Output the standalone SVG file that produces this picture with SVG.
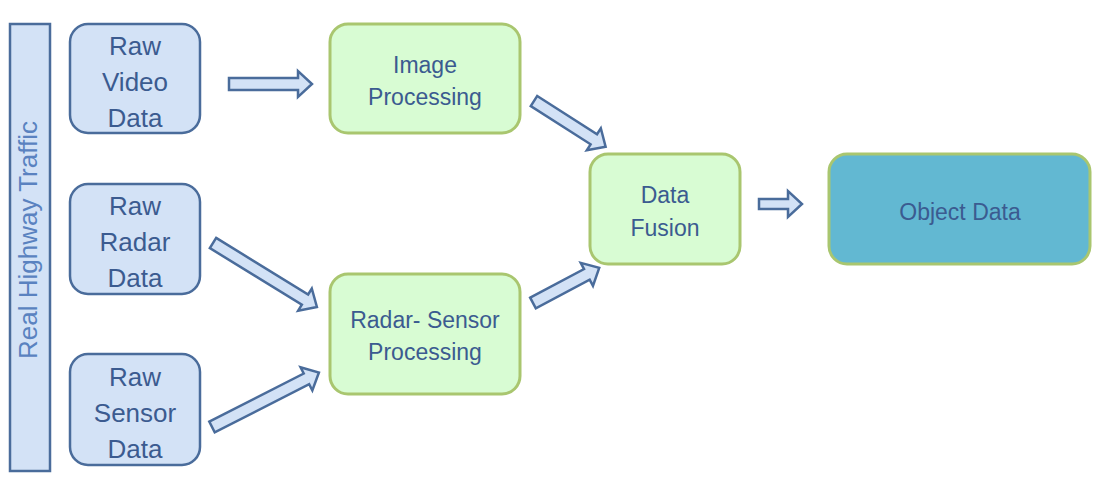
<svg xmlns="http://www.w3.org/2000/svg" width="1119" height="502" viewBox="0 0 1119 502">
<style>
.blue{fill:#d3e2f6;stroke:#4a6c9b;stroke-width:2.5}
.green{fill:#d8fcd3;stroke:#a9c66f;stroke-width:3}
.obj{fill:#62b8d2;stroke:#a9c66f;stroke-width:3}
.arr{fill:#d3e2f6;stroke:#4a6c9b;stroke-width:2.5;stroke-linejoin:miter}
.big{font-family:"Liberation Sans",Arial,sans-serif;font-size:26px;fill:#3b5b90;text-anchor:middle}
.sm{font-family:"Liberation Sans",Arial,sans-serif;font-size:23px;fill:#3b5b90;text-anchor:middle}
.vert{font-family:"Liberation Sans",Arial,sans-serif;font-size:26px;fill:#5a82c0;text-anchor:middle}
</style>
<rect width="1119" height="502" fill="#ffffff"/>
<g id="bar">
<rect class="blue" x="10" y="24" width="40" height="447"/>
<text class="vert" transform="translate(37,240) rotate(-90)">Real Highway Traffic</text>
</g>
<g id="raw-video">
<rect class="blue" x="70" y="24" width="130" height="109" rx="18"/>
<text class="big" x="135" y="55">Raw</text>
<text class="big" x="135" y="91">Video</text>
<text class="big" x="135" y="127">Data</text>
</g>
<g id="raw-radar">
<rect class="blue" x="70" y="184" width="130" height="110" rx="18"/>
<text class="big" x="135" y="215">Raw</text>
<text class="big" x="135" y="251">Radar</text>
<text class="big" x="135" y="287">Data</text>
</g>
<g id="raw-sensor">
<rect class="blue" x="70" y="354" width="130" height="111" rx="18"/>
<text class="big" x="135" y="386">Raw</text>
<text class="big" x="135" y="422">Sensor</text>
<text class="big" x="135" y="458">Data</text>
</g>
<g id="image-processing">
<rect class="green" x="330" y="24" width="190" height="109" rx="18"/>
<text class="sm" x="425" y="73">Image</text>
<text class="sm" x="425" y="105">Processing</text>
</g>
<g id="radar-sensor-processing">
<rect class="green" x="330" y="274" width="190" height="120" rx="18"/>
<text class="sm" x="425" y="328">Radar- Sensor</text>
<text class="sm" x="425" y="360">Processing</text>
</g>
<g id="data-fusion">
<rect class="green" x="590" y="154" width="150" height="110" rx="18"/>
<text class="sm" x="665" y="203">Data</text>
<text class="sm" x="665" y="236">Fusion</text>
</g>
<g id="object-data">
<rect class="obj" x="829" y="154" width="261" height="110" rx="18"/>
<text class="sm" x="960" y="220">Object Data</text>
</g>
<g id="connectors">
<path class="arr" transform="translate(229,84)" d="M0,-6 H69 V-13 L83,0 L69,13 V6 H0 Z"/>
<path class="arr" transform="translate(534,101) rotate(32.6)" d="M0,-6 H71 V-13 L85,0 L71,13 V6 H0 Z"/>
<path class="arr" transform="translate(533,303) rotate(-28)" d="M0,-6 H61 V-13 L75,0 L61,13 V6 H0 Z"/>
<path class="arr" transform="translate(213,243) rotate(31.6)" d="M0,-6 H108 V-13 L122,0 L108,13 V6 H0 Z"/>
<path class="arr" transform="translate(212,427) rotate(-27)" d="M0,-6 H106 V-13 L120,0 L106,13 V6 H0 Z"/>
<path class="arr" transform="translate(759,204)" d="M0,-5 H29 V-13 L43,0 L29,13 V5 H0 Z"/>
</g>
</svg>
